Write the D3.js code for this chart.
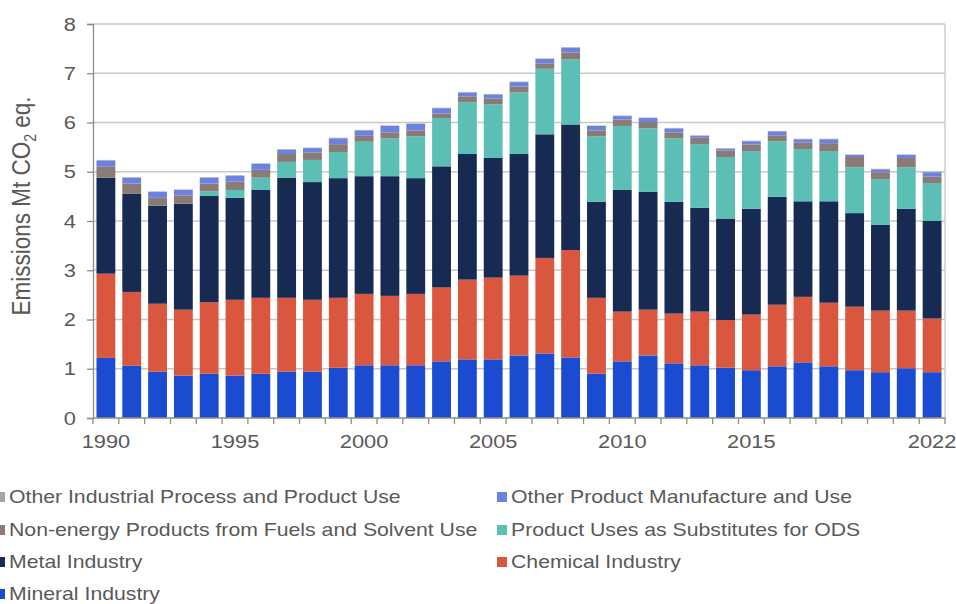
<!DOCTYPE html>
<html><head><meta charset="utf-8">
<script src="https://cdn.jsdelivr.net/npm/d3@7"></script>
<style>body{margin:0;background:#fff;}svg{display:block;font-family:"Liberation Sans",Arial,sans-serif;}</style>
</head><body>
<svg id="c" width="956" height="604"></svg>
<script>
const years = d3.range(1990, 2023).map(String);
const tickLabels = ["1990","1995","2000","2005","2010","2015","2022"];
const yTicks = [0,1,2,3,4,5,6,7,8];
const seriesNames = ["Mineral Industry","Chemical Industry","Metal Industry","Product Uses as Substitutes for ODS","Non-energy Products from Fuels and Solvent Use","Other Product Manufacture and Use","Other Industrial Process and Product Use"];
const mineral = [1.22,1.06,0.94,0.86,0.90,0.86,0.90,0.94,0.94,1.02,1.07,1.07,1.07,1.15,1.19,1.19,1.27,1.31,1.23,0.90,1.15,1.27,1.11,1.07,1.02,0.97,1.05,1.13,1.05,0.97,0.93,1.01,0.93];
const chemical = [1.71,1.50,1.38,1.34,1.45,1.54,1.54,1.50,1.46,1.42,1.45,1.41,1.45,1.50,1.62,1.66,1.62,1.94,2.18,1.54,1.01,0.93,1.01,1.09,0.97,1.13,1.25,1.33,1.29,1.29,1.25,1.17,1.09];
const metal = [1.95,1.99,1.99,2.15,2.16,2.07,2.19,2.44,2.39,2.43,2.39,2.43,2.35,2.46,2.55,2.43,2.47,2.51,2.55,1.95,2.47,2.39,2.27,2.11,2.06,2.15,2.19,1.94,2.06,1.90,1.74,2.07,1.98];
const ods = [0,0,0,0,0.09,0.16,0.25,0.32,0.45,0.53,0.70,0.77,0.85,0.98,1.05,1.09,1.25,1.33,1.32,1.33,1.30,1.29,1.29,1.29,1.25,1.17,1.13,1.06,1.02,0.93,0.93,0.84,0.77];
const nonEnergy = [0.23,0.21,0.16,0.17,0.16,0.17,0.16,0.16,0.15,0.16,0.12,0.12,0.12,0.09,0.12,0.12,0.12,0.11,0.14,0.12,0.13,0.13,0.12,0.13,0.13,0.13,0.12,0.13,0.16,0.21,0.14,0.19,0.13];
const otherProduct = [0.12,0.12,0.12,0.11,0.12,0.12,0.12,0.09,0.09,0.12,0.11,0.13,0.13,0.11,0.08,0.08,0.09,0.09,0.10,0.09,0.07,0.08,0.08,0.04,0.04,0.07,0.08,0.07,0.08,0.04,0.06,0.06,0.09];
const otherIndustrial = [0.01,0.01,0.01,0.01,0.01,0.01,0.01,0.01,0.01,0.01,0.01,0.01,0.01,0.01,0.01,0.01,0.01,0.01,0.01,0.01,0.01,0.01,0.01,0.01,0.01,0.01,0.01,0.01,0.01,0.01,0.01,0.01,0.01];
const colors = ["#1a4bd0","#d9573f","#172a52","#5bbfb5","#8a7b76","#6c82e0","#a5a5a5"];

const seriesArrays = [mineral,chemical,metal,ods,nonEnergy,otherProduct,otherIndustrial];
const table = years.map((y,i)=>{const o={year:y}; seriesNames.forEach((n,j)=>o[n]=seriesArrays[j][i]); return o;});

const SX = 1.18; // horizontal stretch of text in the reference
const svg = d3.select("#c");
const m = {l:93, r:945, t:24, b:418};
const x = d3.scaleBand().domain(years).range([m.l,m.r]).paddingInner(0.27).paddingOuter(0.135);
const y = d3.scaleLinear().domain([0,8]).range([m.b,m.t]);

// grid
svg.append("g").selectAll("line").data(yTicks.filter(d=>d>0)).join("line")
  .attr("x1",m.l).attr("x2",m.r).attr("y1",d=>y(d)).attr("y2",d=>y(d))
  .attr("stroke","#c8c8c8").attr("stroke-width",1.3);
svg.append("line").attr("x1",m.r).attr("x2",m.r).attr("y1",m.t).attr("y2",m.b).attr("stroke","#c8c8c8").attr("stroke-width",1.3);

const stack = d3.stack().keys(seriesNames)(table);
svg.append("g").selectAll("g").data(stack).join("g").attr("fill",(d,i)=>colors[i])
  .selectAll("rect").data(d=>d).join("rect")
  .attr("x",d=>x(d.data.year)).attr("width",x.bandwidth())
  .attr("y",d=>y(d[1])).attr("height",d=>Math.max(0,y(d[0])-y(d[1])));

// y axis
const ya = svg.append("g").attr("transform",`translate(${m.l},0)`)
  .call(d3.axisLeft(y).tickValues(yTicks).tickSize(6).tickFormat(""));
ya.select(".domain").attr("stroke","#8c8c8c").attr("stroke-width",1.3);
ya.selectAll(".tick line").attr("stroke","#8c8c8c").attr("stroke-width",1.3);
svg.append("g").selectAll("text").data(yTicks).join("text")
  .attr("transform",d=>`translate(76,${y(d)}) scale(${SX},1)`)
  .attr("text-anchor","end").attr("dy","0.36em")
  .attr("fill","#595959").style("font-size","18.5px").text(d=>d);

// x axis with ticks at band boundaries
const xa = svg.append("g").attr("transform",`translate(0,${m.b})`);
xa.append("line").attr("x1",m.l).attr("x2",m.r).attr("stroke","#8c8c8c").attr("stroke-width",1.3);
const step = x.step();
const bounds = years.map(yr=>x(yr) - (step - x.bandwidth())/2).concat([m.r]);
xa.selectAll(".tk").data(bounds).join("line").attr("class","tk")
  .attr("x1",d=>d).attr("x2",d=>d).attr("y1",0).attr("y2",6).attr("stroke","#8c8c8c").attr("stroke-width",1.3);
xa.selectAll("text").data(tickLabels).join("text")
  .attr("transform",d=>`translate(${x(d)+x.bandwidth()/2},30) scale(${SX},1)`)
  .attr("text-anchor","middle")
  .attr("fill","#595959").style("font-size","18.5px").text(d=>d);

// y title
const yt = svg.append("text").attr("transform",`translate(30,206) scale(${SX},1) rotate(-90)`).attr("text-anchor","middle")
  .attr("fill","#595959").style("font-size","22.5px");
yt.append("tspan").text("Emissions Mt CO");
yt.append("tspan").attr("dy",5).style("font-size","14px").text("2");
yt.append("tspan").attr("dy",-5).text(" eq.");

// legend
const legendItems = [
  {k:6,x:-5,row:0},{k:4,x:-5,row:1},{k:2,x:-5,row:2},{k:0,x:-5,row:3},
  {k:5,x:497,row:0},{k:3,x:497,row:1},{k:1,x:497,row:2}
];
const rowY = [497,530,562,594];
const lg = svg.append("g");
legendItems.forEach(it=>{
  lg.append("rect").attr("x",it.x).attr("y",rowY[it.row]-5).attr("width",10).attr("height",10).attr("fill",colors[it.k]);
  lg.append("text").attr("transform",`translate(${it.x+14},${rowY[it.row]}) scale(${SX},1)`).attr("dy","0.36em")
    .attr("fill","#595959").style("font-size","18px").text(seriesNames[it.k]);
});
</script>
</body></html>
